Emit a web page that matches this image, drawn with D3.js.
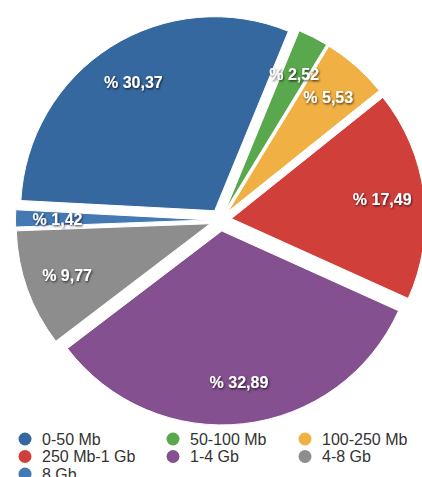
<!DOCTYPE html>
<html>
<head>
<meta charset="utf-8">
<script src="https://cdn.jsdelivr.net/npm/d3@7"></script>
<style>
  body { margin: 0; background: #fff; }
  .val-label { font-family: "Liberation Sans", Arial, sans-serif; font-size: 16px; font-weight: bold; fill: #fff; }
  .leg-label { font-family: "Liberation Sans", Arial, sans-serif; font-size: 16px; fill: #333; }
</style>
</head>
<body>
<script>
var categories = ['0-50 Mb', '50-100 Mb', '100-250 Mb', '250 Mb-1 Gb', '1-4 Gb', '4-8 Gb', '8 Gb'];
var values = [30.37, 2.52, 5.53, 17.49, 32.89, 9.77, 1.42];
var colors = ['#35689f', '#5aa84d', '#f0b043', '#d13f3b', '#84508f', '#8d8d8d', '#4579b4'];

var w = 422, h = 477;
var cx = 220.5, cy = 220;
var radius = 194;
var explode = 11;
var labelR = 152;

var data = categories.map(function(c, i) {
  return {key: c, value: values[i], color: colors[i]};
});

var svg = d3.select("body").append("svg")
  .attr("width", w)
  .attr("height", h);

// soft dark shadow under the white labels
var f = svg.append("defs").append("filter")
  .attr("id", "shadow")
  .attr("x", "-20%").attr("y", "-40%")
  .attr("width", "140%").attr("height", "180%");
f.append("feDropShadow")
  .attr("dx", 0.8).attr("dy", 1.2)
  .attr("stdDeviation", 1.1)
  .attr("flood-color", "#000")
  .attr("flood-opacity", 0.75);

var start = -87 * Math.PI / 180;
var pie = d3.pie()
  .sort(null)
  .value(function(d) { return d.value; })
  .startAngle(start)
  .endAngle(start + 2 * Math.PI);

var arc = d3.arc().innerRadius(0).outerRadius(radius);

var arcs = pie(data);

function mid(d) { return (d.startAngle + d.endAngle) / 2; }
function shift(d) {
  var a = mid(d);
  return "translate(" + (explode * Math.sin(a)) + "," + (-explode * Math.cos(a)) + ")";
}

var g = svg.append("g")
  .attr("transform", "translate(" + cx + "," + cy + ")");

g.selectAll(".slice")
  .data(arcs)
  .enter()
  .append("path")
  .attr("class", "slice")
  .attr("transform", shift)
  .attr("d", arc)
  .attr("fill", function(d) { return d.data.color; })
  .attr("stroke", "#fff")
  .attr("stroke-width", 1);

// labels on top of all slices
g.selectAll(".val-label")
  .data(arcs)
  .enter()
  .append("text")
  .attr("class", "val-label")
  .attr("transform", shift)
  .attr("filter", "url(#shadow)")
  .attr("text-anchor", "middle")
  .attr("dy", "0.36em")
  .attr("x", function(d) { return labelR * Math.sin(mid(d)); })
  .attr("y", function(d) { return -labelR * Math.cos(mid(d)); })
  .text(function(d) { return "% " + d.data.value.toFixed(2).replace(".", ","); });

// legend, three columns
var colX = [25, 173, 305];
var rowY0 = 439, rowH = 17.5;

var leg = svg.selectAll(".leg")
  .data(data)
  .enter()
  .append("g")
  .attr("class", "leg")
  .attr("transform", function(d, i) {
    return "translate(" + colX[i % 3] + "," + (rowY0 + Math.floor(i / 3) * rowH) + ")";
  });

leg.append("circle")
  .attr("r", 6.5)
  .attr("fill", function(d) { return d.color; });

leg.append("text")
  .attr("class", "leg-label")
  .attr("x", 17)
  .attr("dy", "0.36em")
  .text(function(d) { return d.key; });
</script>
</body>
</html>
